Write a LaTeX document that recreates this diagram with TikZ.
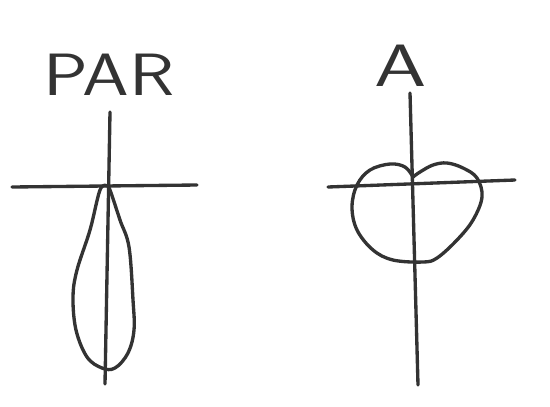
\documentclass[tikz,border=0pt]{standalone}
\usepackage{tikz}
\usetikzlibrary{positioning}
\definecolor{sketchink}{HTML}{333333}
\tikzset{
  pen/.style={draw=sketchink, line width=1.9pt, line cap=round, line join=round},
  tag/.style={font=\fontsize{34}{34}\selectfont\sffamily, text=sketchink, inner sep=0pt}
}
\begin{document}
\begin{tikzpicture}[x=0.02cm, y=-0.02cm]
  \useasboundingbox (0,0) rectangle (550,406);
  % left sketch: narrow lobe
  \node[tag, xscale=1.25] (parlabel) at (109,75) {PAR};
  \draw[pen] (110,112) -- (105,384);
  \draw[pen] (12,187) -- (197,185);
  \draw[pen] plot[smooth, tension=0.6] coordinates {
      (107,186) (100,190) (90,230) (77,270) (73,297) (76,330) (87,357)
      (102,368) (115,368) (128,353) (134,330) (133,300) (129,247)
      (120,220) (110,190) (107,186)};
  % right sketch: heart shaped lobe
  \node[tag, xscale=1.4] (alabel) at (401,66) {A};
  \draw[pen] (410,93) -- (418,385);
  \draw[pen] (328,187) -- (515,180);
  \draw[pen] plot[smooth, tension=0.6] coordinates {
      (413,177) (405,167) (390,164) (370,170) (357,185) (352,207) (357,230)
      (373,250) (393,260) (423,262) (437,258) (457,240) (473,220) (482,197)
      (477,178) (463,168) (447,163) (433,165) (420,172) (413,177)};
\end{tikzpicture}
\end{document}
